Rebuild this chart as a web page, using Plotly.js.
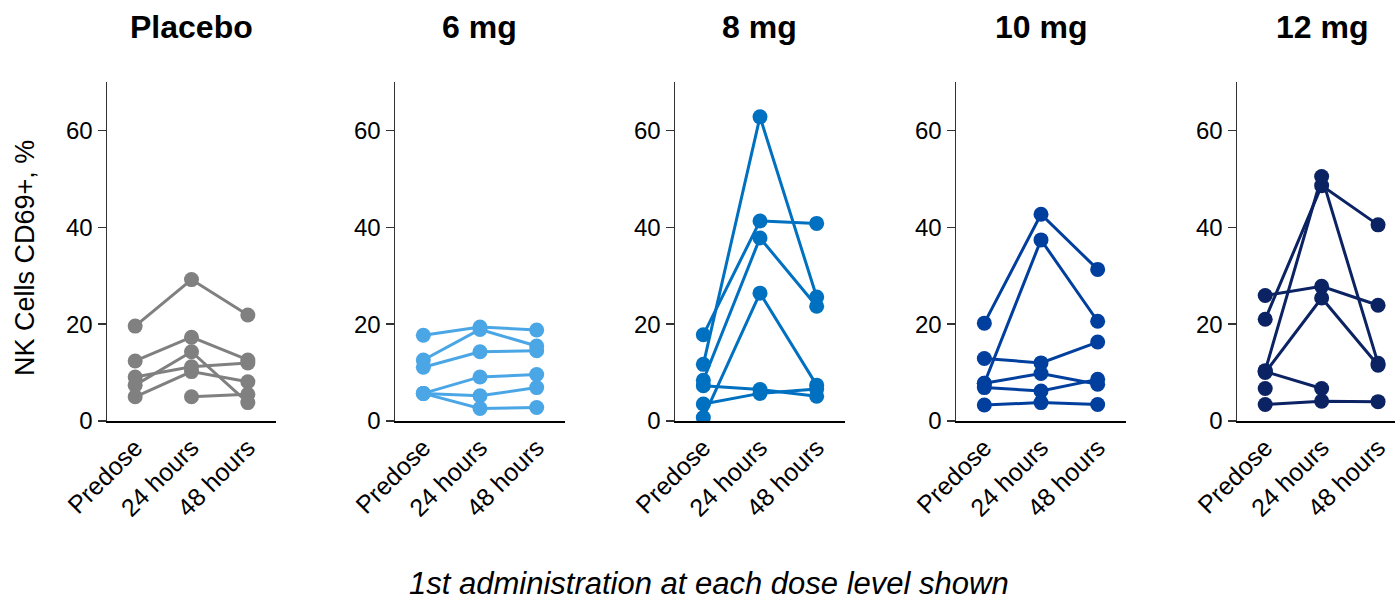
<!DOCTYPE html>
<html><head><meta charset="utf-8">
<script src="https://cdn.plot.ly/plotly-3.0.1.min.js"></script>
<style>html,body{margin:0;padding:0;background:#fff}#chart{width:1395px;height:603px}</style>
</head><body><div id="chart"></div>
<script>
const timepoints = ["Predose", "24 hours", "48 hours"];
const panelTitles = ["Placebo", "6 mg", "8 mg", "10 mg", "12 mg"];
const panelColors = ["#808080", "#4ba6e6", "#0070c0", "#003f9e", "#0b2263"];
const yTicks = [0, 20, 40, 60];
const yTitle = "NK Cells CD69+, %";
const footnote = "1st administration at each dose level shown";

const placebo = [
  [19.6, 29.2, 21.9],
  [12.4, 17.3, 12.6],
  [9.1, 11.2, 12.0],
  [7.4, 14.3, 3.8],
  [5.0, 10.2, 8.1],
  [null, 5.0, 5.5]
];
const dose6 = [
  [17.7, 19.4, 18.8],
  [12.6, 18.9, 15.5],
  [11.1, 14.3, 14.5],
  [5.7, 9.1, 9.6],
  [5.7, 5.2, 6.9],
  [5.7, 2.6, 2.8]
];
const dose8 = [
  [17.8, 41.3, 40.8],
  [11.7, 62.8, 25.6],
  [8.4, 37.8, 23.7],
  [0.7, 26.4, 7.4],
  [7.3, 6.5, 5.1],
  [3.5, 5.7, 6.6]
];
const dose10 = [
  [20.2, 42.7, 31.3],
  [7.8, 37.4, 20.6],
  [12.9, 12.0, 16.3],
  [7.8, 9.8, 7.6],
  [6.9, 6.2, 8.6],
  [3.3, 3.8, 3.4]
];
const dose12 = [
  [25.9, 27.8, 23.9],
  [21.0, 48.6, 40.5],
  [10.4, 50.5, 11.9],
  [10.0, 25.4, 11.5],
  [10.2, 6.7, null],
  [6.7, null, null],
  [3.4, 4.1, 4.0]
];
const panels = [placebo, dose6, dose8, dose10, dose12];

const W = 1395;
const axLeft = [107, 395, 675, 956, 1237];
const axRight = [276, 565, 845, 1126, 1395];
const xRanges = [[-0.5, 2.5], [-0.5, 2.5], [-0.5, 2.5], [-0.5, 2.5], [-0.5, 2.3]];

const traces = [];
const layout = {
  width: 1395, height: 603,
  margin: {l: 0, r: 0, t: 82, b: 182},
  paper_bgcolor: "#fff", plot_bgcolor: "#fff",
  showlegend: false,
  font: {family: "Liberation Sans, Arial, sans-serif", color: "#000"},
  annotations: []
};

panels.forEach((series, i) => {
  const xa = i === 0 ? "x" : "x" + (i + 1);
  const ya = i === 0 ? "y" : "y" + (i + 1);
  series.forEach(s => {
    traces.push({
      x: timepoints, y: s, xaxis: xa, yaxis: ya,
      type: "scatter", mode: "lines+markers",
      line: {color: panelColors[i], width: 3},
      marker: {color: panelColors[i], size: 15},
      connectgaps: false, hoverinfo: "skip"
    });
  });
  const xk = i === 0 ? "xaxis" : "xaxis" + (i + 1);
  const yk = i === 0 ? "yaxis" : "yaxis" + (i + 1);
  layout[xk] = {
    domain: [axLeft[i] / W, axRight[i] / W],
    anchor: ya, type: "category", range: xRanges[i],
    showline: true, linecolor: "#000", linewidth: 2,
    showgrid: false, zeroline: false, ticks: "",
    tickangle: -45, tickfont: {size: 25, color: "#000"},
    categoryorder: "array", categoryarray: timepoints
  };
  layout[yk] = {
    domain: [0, 1], anchor: xa, range: [0, 70],
    showline: true, linecolor: "#333", linewidth: 1.5,
    showgrid: false, zeroline: false,
    ticks: "outside", ticklen: 8, tickwidth: 1.5, tickcolor: "#333",
    tickvals: yTicks, tickfont: {size: 24, color: "#000"}
  };
  layout.annotations.push({
    text: "<b>" + panelTitles[i] + "</b>",
    xref: "paper", yref: "paper",
    x: (axLeft[i] + 28 + 56.5) / W, y: 1, yshift: 55,
    xanchor: "center", yanchor: "middle", showarrow: false,
    font: {size: 32, color: "#000"}
  });
});

layout.annotations.push({
  text: yTitle, textangle: -90,
  xref: "paper", yref: "paper", x: 25 / W, y: (421 - 258) / 339,
  xanchor: "center", yanchor: "middle", showarrow: false,
  font: {size: 27, color: "#000"}
});

layout.annotations.push({
  text: "<i>" + footnote + "</i>",
  xref: "paper", yref: "paper", x: 709 / W, y: 0, yshift: -162,
  xanchor: "center", yanchor: "middle", showarrow: false,
  font: {size: 31, color: "#000"}
});

Plotly.newPlot("chart", traces, layout, {displayModeBar: false, staticPlot: true});
</script>
</body></html>
